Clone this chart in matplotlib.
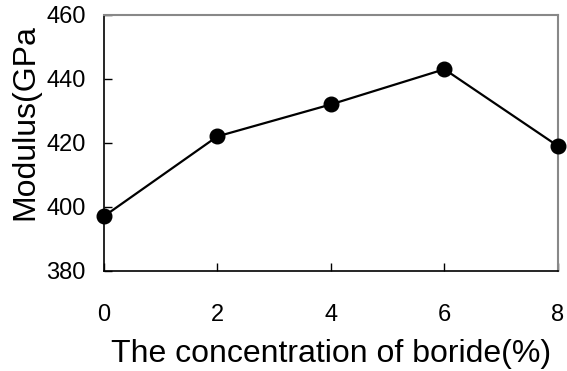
import matplotlib.pyplot as plt

plt.rcParams['font.family'] = ['Liberation Sans', 'DejaVu Sans']

# boride concentration (%) and modulus (GPa)
conc = [0, 2, 4, 6, 8]
modulus = [397, 422, 432, 443, 419]
yticks = [380, 400, 420, 440, 460]

fig = plt.figure(figsize=(5.67, 3.71), dpi=100)
ax = fig.add_axes([0.183, 0.27, 0.801, 0.69])

ax.plot(conc, modulus, color='black', linewidth=1.6, marker='o',
        markersize=10.5, clip_on=False, zorder=3)

ax.set_xlim(0, 8)
ax.set_ylim(380, 460)
ax.set_xticks(conc)
ax.set_yticks(yticks)

ax.tick_params(direction='in', length=6, width=1, labelsize=17)
ax.tick_params(axis='x', pad=24)
ax.tick_params(axis='y', pad=13)

for side in ['top', 'right']:
    ax.spines[side].set_color('#888888')
    ax.spines[side].set_linewidth(1.5)
for side in ['left', 'bottom']:
    ax.spines[side].set_color('black')
    ax.spines[side].set_linewidth(1.2)

ax.set_xlabel('The concentration of boride(%)', fontsize=23, labelpad=9)
ax.set_ylabel('Modulus(GPa', fontsize=23)
ax.yaxis.set_label_coords(-0.14, 0.58)

fig.savefig('out.png', dpi=100)
